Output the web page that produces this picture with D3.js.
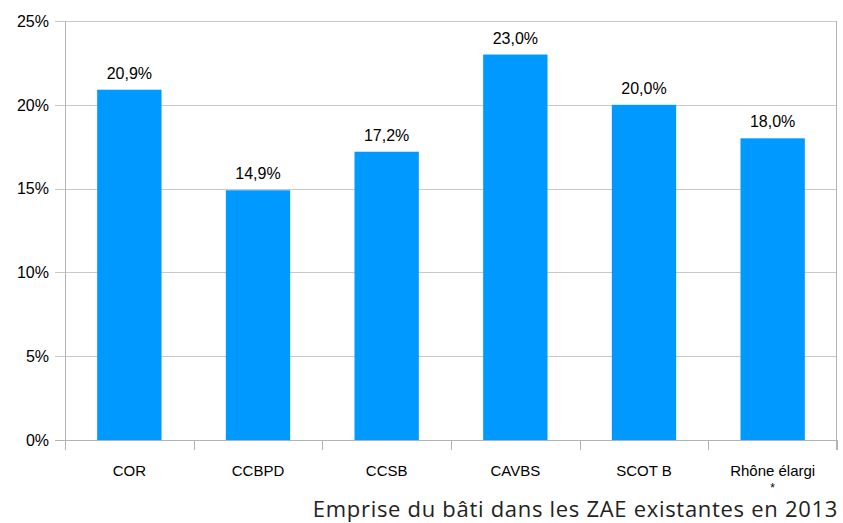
<!DOCTYPE html>
<html lang="fr">
<head>
<meta charset="utf-8">
<script src="https://d3js.org/d3.v7.min.js"></script>
<style>
  body { margin: 0; background: #fff; }
  text { font-family: "Liberation Sans", Arial, sans-serif; fill: #000; }
</style>
</head>
<body>
<div id="chart"></div>
<script>
// data
var categories = ["COR", "CCBPD", "CCSB", "CAVBS", "SCOT B", "Rhône élargi"];
var values = [20.9, 14.9, 17.2, 23.0, 20.0, 18.0];
var yTicks = [0, 5, 10, 15, 20, 25];
var title = "Emprise du bâti dans les ZAE existantes en 2013";

var W = 843, H = 523;
var margin = {top: 21, right: 6, bottom: 83, left: 65};
var width = W - margin.left - margin.right,
    height = H - margin.top - margin.bottom;

var svg = d3.select("#chart").append("svg")
    .attr("width", W).attr("height", H);
var g = svg.append("g")
    .attr("transform", "translate(" + margin.left + "," + margin.top + ")");

var x = d3.scaleBand().domain(categories).range([0, width]).paddingInner(0.5).paddingOuter(0.25);
var y = d3.scaleLinear().domain([0, 25]).range([height, 0]);

// horizontal grid + y ticks
g.selectAll(".grid").data(yTicks).enter().append("line")
    .attr("x1", -10).attr("x2", width)
    .attr("y1", function(d) { return Math.round(y(d)) + 0.5; })
    .attr("y2", function(d) { return Math.round(y(d)) + 0.5; })
    .attr("stroke", function(d) { return d === 0 ? "#b3b3b3" : "#c8c8c8"; })
    .attr("stroke-width", 1);

g.selectAll(".ylab").data(yTicks).enter().append("text")
    .attr("x", -16).attr("y", function(d) { return y(d); })
    .attr("dy", "0.36em").attr("text-anchor", "end")
    .style("font-size", "16px")
    .text(function(d) { return d + "%"; });

// y axis line
g.append("line").attr("x1", 0.5).attr("x2", 0.5)
    .attr("y1", 0).attr("y2", height + 10)
    .attr("stroke", "#b3b3b3");

// right border line
g.append("line").attr("x1", width - 0.5).attr("x2", width - 0.5)
    .attr("y1", 0).attr("y2", height + 10)
    .attr("stroke", "#b3b3b3");

// category separator ticks
g.selectAll(".xtick").data(d3.range(categories.length + 1)).enter().append("line")
    .attr("x1", function(i) { return Math.round(i * width / categories.length) + 0.5; })
    .attr("x2", function(i) { return Math.round(i * width / categories.length) + 0.5; })
    .attr("y1", height).attr("y2", height + 10)
    .attr("stroke", "#b3b3b3");

// bars
g.selectAll(".bar").data(values).enter().append("rect")
    .attr("x", function(d, i) { return x(categories[i]); })
    .attr("width", x.bandwidth())
    .attr("y", function(d) { return y(d); })
    .attr("height", function(d) { return height - y(d); })
    .attr("fill", "#0099ff");

// value labels
g.selectAll(".val").data(values).enter().append("text")
    .attr("x", function(d, i) { return x(categories[i]) + x.bandwidth() / 2; })
    .attr("y", function(d) { return y(d) - 11; })
    .attr("text-anchor", "middle")
    .style("font-size", "16px")
    .text(function(d) { return d.toFixed(1).replace(".", ",") + "%"; });

// category labels
g.selectAll(".cat").data(categories).enter().append("text")
    .attr("x", function(d) { return x(d) + x.bandwidth() / 2; })
    .attr("y", height + 36)
    .attr("text-anchor", "middle")
    .style("font-size", "15px")
    .text(function(d) { return d; });

g.append("text")
    .attr("x", x(categories[5]) + x.bandwidth() / 2)
    .attr("y", height + 52)
    .attr("text-anchor", "middle")
    .style("font-size", "12px")
    .text("*");

// title
svg.append("text")
    .attr("x", W - 5).attr("y", H - 6)
    .attr("text-anchor", "end")
    .style("font-family", "'Open Sans', sans-serif")
    .style("font-size", "22px")
    .style("letter-spacing", "0.7px")
    .style("fill", "#222")
    .text(title);
</script>
</body>
</html>
